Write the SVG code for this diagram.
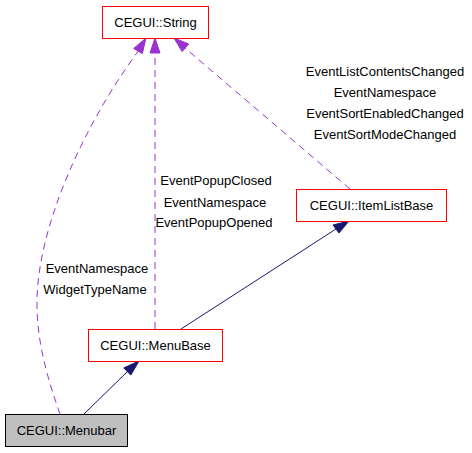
<svg xmlns="http://www.w3.org/2000/svg" width="472" height="453" viewBox="0 0 472 453">
<style>
text{font-family:"Liberation Sans",Arial,sans-serif;font-size:13px;fill:#000;text-anchor:middle}
.box{fill:#fff;stroke:#ff0000;stroke-width:1}
.dash{fill:none;stroke:#9a32cd;stroke-width:1;stroke-dasharray:7,5}
.dashh{fill:#9a32cd;stroke:#9a32cd}
.solid{fill:none;stroke:#191970;stroke-width:1}
.solidh{fill:#191970;stroke:#191970}
</style>
<rect width="472" height="453" fill="#fff"/>
<g id="connectors">
<path class="dash" d="M60,414 C48,380 36,340 37,300 C38,230 80,130 139,50"/>
<polygon class="dashh" points="146,38 133.7,48.4 142.3,53.6"/>
<path class="dash" d="M155,329 L155,53"/>
<polygon class="dashh" points="155,38 150,53 160,53"/>
<path class="dash" d="M350,189 L185,48"/>
<polygon class="dashh" points="174,38 182.1,51.6 188.7,44"/>
<path class="solid" d="M84,414 L128,371"/>
<polygon class="solidh" points="139,361 123.8,367.9 130.8,375.1"/>
<path class="solid" d="M181,329 L336,229"/>
<polygon class="solidh" points="349,221 333,225 339,233"/>
<text x="97" y="273">EventNamespace</text>
<text x="95" y="294">WidgetTypeName</text>
<text x="216" y="185">EventPopupClosed</text>
<text x="215" y="207">EventNamespace</text>
<text x="214" y="227">EventPopupOpened</text>
<text x="385" y="76">EventListContentsChanged</text>
<text x="385" y="97">EventNamespace</text>
<text x="385" y="118">EventSortEnabledChanged</text>
<text x="385" y="139">EventSortModeChanged</text>
</g>
<g id="node-string">
<rect class="box" x="102.5" y="6.5" width="106" height="32"/>
<text x="155.5" y="27">CEGUI::String</text>
</g>
<g id="node-itemlistbase">
<rect class="box" x="296.5" y="189.5" width="150" height="32"/>
<text x="371.5" y="210">CEGUI::ItemListBase</text>
</g>
<g id="node-menubase">
<rect class="box" x="88.5" y="329.5" width="134" height="32"/>
<text x="155.5" y="350">CEGUI::MenuBase</text>
</g>
<g id="node-menubar">
<rect x="5.5" y="414.5" width="122" height="32" fill="#bfbfbf" stroke="#000"/>
<text x="66.5" y="435">CEGUI::Menubar</text>
</g>
</svg>
